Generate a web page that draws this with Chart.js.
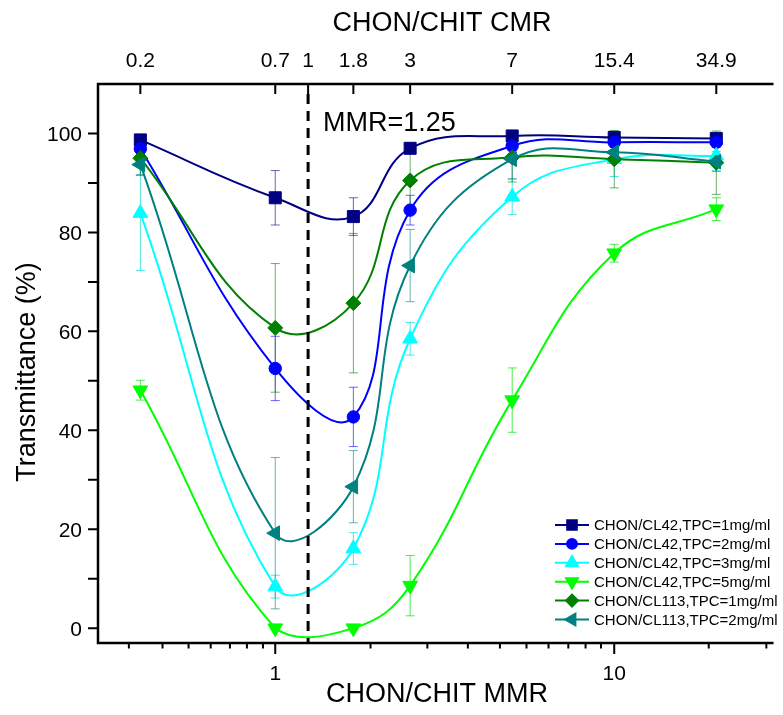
<!DOCTYPE html>
<html>
<head>
<meta charset="utf-8">
<script src="https://cdn.jsdelivr.net/npm/chart.js@4.4.1/dist/chart.umd.min.js"></script>
<style>
  html, body { margin: 0; padding: 0; background: #fff; overflow: hidden; }
  canvas { display: block; }
</style>
</head>
<body>
<canvas id="chart" width="783" height="715"></canvas>
<script>
// --- 1. DATA ---
const mmr = [0.4, 1, 1.7, 2.5, 5, 10, 20];

const cl42_1 = [98.7, 87.0, 83.2, 97.0, 99.5, 99.2, 99.0];
const cl42_2 = [96.9, 52.5, 42.7, 84.5, 97.5, 98.2, 98.2];
const cl42_3 = [83.9, 8.4, 16.1, 58.5, 87.2, 94.8, 95.5];
const cl42_5 = [48.1, 0.0, 0.0, 8.6, 46.1, 75.8, 84.7];
const cl113_1 = [95.0, 60.7, 65.7, 90.5, 95.2, 94.8, 94.1];
const cl113_2 = [93.7, 19.2, 28.6, 73.3, 94.8, 96.2, 94.3];

const err42_1 = [0.5, 5.5, 3.8, 1.0, 1.0, 1.0, 1.0];
const err42_2 = [1.5, 6.5, 6.0, 3.0, 1.0, 1.0, 1.0];
const err42_3 = [11.6, 2.3, 3.2, 3.3, 3.6, 3.5, 3.0];
const err42_5 = [2.0, 0.5, 0.5, 6.1, 6.5, 1.8, 2.3];
const err113_1 = [3.5, 13.0, 14.1, 5.5, 5.0, 5.8, 6.4];
const err113_2 = [2.0, 15.3, 7.3, 7.3, 4.0, 2.0, 2.0];

const seriesNames = [
    "CHON/CL42,TPC=1mg/ml", "CHON/CL42,TPC=2mg/ml", "CHON/CL42,TPC=3mg/ml",
    "CHON/CL42,TPC=5mg/ml", "CHON/CL113,TPC=1mg/ml", "CHON/CL113,TPC=2mg/ml"
];

// bottom axis (MMR): labelled ticks and the minor ticks as drawn
const mmrMajor = [1, 10];
const mmrMajorLabels = ["1", "10"];
const mmrMinor = [0.37, 0.465, 0.555, 0.645, 0.735, 0.825, 0.92,
                  1.91, 2.81, 3.7, 4.6, 5.51, 6.4, 7.32, 8.23, 9.14, 19, 28.1];

// top axis (CMR) labels sit on MMR positions
const cmrAt = [0.4, 1, 1.25, 1.7, 2.5, 5, 10, 20];
const cmrLabels = ["0.2", "0.7", "1", "1.8", "3", "7", "15.4", "34.9"];

const yMajor = [0, 20, 40, 60, 80, 100];
const yMinor = [10, 30, 50, 70, 90];
const mmrLine = 1.25;

// --- 2. STYLES ---
const colors = ['#000080', '#0000ff', '#00ffff', '#00ff00', '#008000', '#008080'];
const errColors = ['rgba(0,0,128,0.6)', 'rgba(0,0,255,0.6)', 'rgba(0,220,220,0.7)',
                   'rgba(0,230,0,0.7)', 'rgba(0,128,0,0.6)', 'rgba(0,128,128,0.6)'];
const markers = [
    { pointStyle: 'rect', radius: 8.5, rotation: 0 },
    { pointStyle: 'circle', radius: 6.2, rotation: 0 },
    { pointStyle: 'triangle', radius: 8.5, rotation: 0 },
    { pointStyle: 'triangle', radius: 8.5, rotation: 180 },
    { pointStyle: 'rectRot', radius: 7.5, rotation: 0 },
    { pointStyle: 'triangle', radius: 8.5, rotation: 270 }
];
const values = [cl42_1, cl42_2, cl42_3, cl42_5, cl113_1, cl113_2];
const errors = [err42_1, err42_2, err42_3, err42_5, err113_1, err113_2];
const FONT = '"Liberation Sans", Arial, Helvetica, sans-serif';

const datasets = values.map((vals, i) => ({
    label: seriesNames[i],
    data: vals.map((v, j) => ({ x: mmr[j], y: v })),
    borderColor: colors[i],
    backgroundColor: colors[i],
    pointBackgroundColor: colors[i],
    pointBorderColor: colors[i],
    pointBorderWidth: 1,
    borderWidth: 2,
    tension: 0.42,
    pointStyle: markers[i].pointStyle,
    pointRadius: markers[i].radius,
    pointRotation: markers[i].rotation,
    order: 6 - i
}));

// --- 3. ERROR BARS ---
const errorBars = {
    id: 'errorBars',
    beforeDatasetsDraw(chart) {
        const { ctx, scales: { x, y } } = chart;
        ctx.save();
        ctx.lineWidth = 1;
        errors.forEach((errs, i) => {
            ctx.strokeStyle = errColors[i];
            errs.forEach((e, j) => {
                const px = x.getPixelForValue(mmr[j]);
                const top = y.getPixelForValue(values[i][j] + e);
                const bot = y.getPixelForValue(values[i][j] - e);
                ctx.beginPath();
                ctx.moveTo(px, top); ctx.lineTo(px, bot);
                ctx.moveTo(px - 4.5, top); ctx.lineTo(px + 4.5, top);
                ctx.moveTo(px - 4.5, bot); ctx.lineTo(px + 4.5, bot);
                ctx.stroke();
            });
        });
        ctx.restore();
    }
};

// --- 4. AXES, LABELS, LEGEND ---
const frame = {
    id: 'frame',
    afterDraw(chart) {
        const { ctx, chartArea: a, scales: { x, y } } = chart;
        ctx.save();

        // dashed MMR line
        const dx = x.getPixelForValue(mmrLine);
        ctx.strokeStyle = '#000';
        ctx.lineWidth = 3;
        ctx.setLineDash([10, 7]);
        ctx.beginPath();
        ctx.moveTo(dx, a.top + 10); ctx.lineTo(dx, a.bottom);
        ctx.stroke();
        ctx.setLineDash([]);

        // axis lines
        ctx.lineWidth = 2.5;
        ctx.beginPath();
        ctx.moveTo(a.left, a.top); ctx.lineTo(a.left, a.bottom); ctx.lineTo(a.right, a.bottom);
        ctx.moveTo(a.left - 1.25, a.top); ctx.lineTo(a.right, a.top);
        ctx.stroke();

        // bottom ticks
        ctx.lineWidth = 2;
        ctx.beginPath();
        mmrMajor.forEach(v => { const p = x.getPixelForValue(v); ctx.moveTo(p, a.bottom); ctx.lineTo(p, a.bottom + 11); });
        mmrMinor.forEach(v => { const p = x.getPixelForValue(v); ctx.moveTo(p, a.bottom); ctx.lineTo(p, a.bottom + 5.5); });
        // top ticks (inward)
        cmrAt.forEach(v => { const p = x.getPixelForValue(v); ctx.moveTo(p, a.top); ctx.lineTo(p, a.top + 10); });
        // left ticks
        yMajor.concat(yMinor).forEach(v => { const p = y.getPixelForValue(v); ctx.moveTo(a.left, p); ctx.lineTo(a.left - 10, p); });
        ctx.stroke();

        ctx.fillStyle = '#000';
        ctx.font = '21px ' + FONT;
        ctx.textAlign = 'center';
        ctx.textBaseline = 'alphabetic';
        mmrMajor.forEach((v, i) => ctx.fillText(mmrMajorLabels[i], x.getPixelForValue(v), 680));
        cmrAt.forEach((v, i) => ctx.fillText(cmrLabels[i], x.getPixelForValue(v), 67));
        ctx.textAlign = 'right';
        yMajor.forEach(v => ctx.fillText(String(v), 82, y.getPixelForValue(v) + 7.5));

        // titles
        ctx.textAlign = 'center';
        ctx.font = '27px ' + FONT;
        ctx.fillText('CHON/CHIT CMR', 442, 31);
        ctx.fillText('CHON/CHIT MMR', 437, 702);
        ctx.save();
        ctx.translate(35, 372);
        ctx.rotate(-Math.PI / 2);
        ctx.fillText('Transmittance (%)', 0, 0);
        ctx.restore();
        ctx.textAlign = 'left';
        ctx.fillText('MMR=1.25', 323, 131);

        // legend
        ctx.font = '15px ' + FONT;
        ctx.textBaseline = 'middle';
        seriesNames.forEach((name, i) => {
            const ly = 525 + i * 18.9;
            ctx.strokeStyle = colors[i];
            ctx.fillStyle = colors[i];
            ctx.lineWidth = 2;
            ctx.beginPath();
            ctx.moveTo(555, ly); ctx.lineTo(589, ly);
            ctx.stroke();
            Chart.helpers.drawPoint(ctx, {
                pointStyle: markers[i].pointStyle,
                radius: markers[i].radius * 0.8,
                rotation: markers[i].rotation,
                borderWidth: 1
            }, 572, ly);
            ctx.fillStyle = '#000';
            ctx.fillText(name, 594, ly + 1);
        });
        ctx.restore();
    }
};

// --- 5. CHART ---
new Chart(document.getElementById('chart'), {
    type: 'line',
    data: { datasets },
    options: {
        responsive: false,
        animation: false,
        devicePixelRatio: 1,
        layout: { padding: { left: 98, top: 84, right: 0, bottom: 72 } },
        plugins: { legend: { display: false }, tooltip: { enabled: false } },
        scales: {
            x: { type: 'logarithmic', min: 0.3, max: 29.5, display: false },
            y: { type: 'linear', min: -3, max: 110, display: false }
        }
    },
    plugins: [errorBars, frame]
});
</script>
</body>
</html>
